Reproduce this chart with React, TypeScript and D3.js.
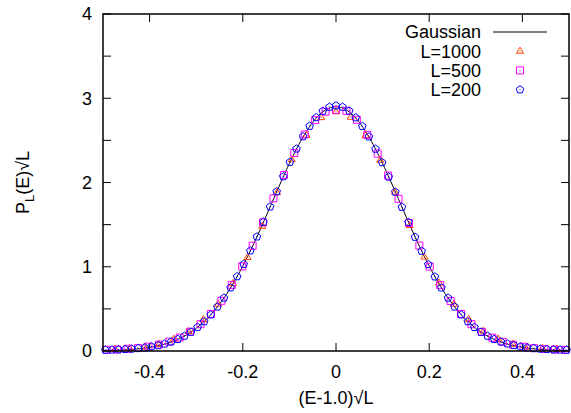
import React, { useRef, useEffect } from 'react';
import * as d3 from 'd3';

// bin spacing in scaled units (dE = 0.001, times sqrt(L))
const step200 = 0.001 * Math.sqrt(200);
const step500 = 0.001 * Math.sqrt(500);
const step1000 = 0.001 * Math.sqrt(1000);

// L=200, bins k = -35..35
const y200 = [
  0.012, 0.014, 0.016, 0.020, 0.025, 0.031, 0.040, 0.052, 0.066, 0.085,
  0.110, 0.140, 0.178, 0.226, 0.283, 0.350, 0.430, 0.524, 0.630, 0.752,
  0.884, 1.030, 1.190, 1.356, 1.532, 1.712, 1.892, 2.070, 2.242, 2.400,
  2.546, 2.670, 2.772, 2.848, 2.896, 2.912, 2.896, 2.850, 2.770, 2.668,
  2.543, 2.398, 2.238, 2.066, 1.888, 1.708, 1.528, 1.352, 1.186, 1.028,
  0.882, 0.750, 0.630, 0.524, 0.430, 0.350, 0.282, 0.226, 0.178, 0.140,
  0.110, 0.086, 0.067, 0.052, 0.040, 0.031, 0.025, 0.020, 0.016, 0.014,
  0.012,
];

// L=500, bins k = -22..22
const y500 = [
  0.014, 0.018, 0.026, 0.036, 0.052, 0.076, 0.110, 0.160, 0.228, 0.318,
  0.440, 0.596, 0.784, 1.004, 1.250, 1.526, 1.812, 2.090, 2.350, 2.570,
  2.740, 2.840, 2.862, 2.850, 2.744, 2.566, 2.342, 2.082, 1.806, 1.520,
  1.252, 1.002, 0.782, 0.594, 0.440, 0.318, 0.226, 0.158, 0.108, 0.074,
  0.050, 0.034, 0.024, 0.017, 0.013,
];

// L=1000, bins k = -15..15
const y1000 = [
  0.020, 0.030, 0.048, 0.080, 0.140, 0.232, 0.372, 0.556, 0.800, 1.110,
  1.480, 1.880, 2.270, 2.560, 2.770, 2.840, 2.775, 2.555, 2.265, 1.885,
  1.490, 1.115, 0.806, 0.556, 0.376, 0.236, 0.142, 0.082, 0.048, 0.030,
  0.020,
];

const gaussSigma = 0.1376;
const xTicks = [-0.4, -0.2, 0, 0.2, 0.4];
const yTicks = [0, 1, 2, 3, 4];
const yMinor = [0.5, 1.5, 2.5, 3.5];

const legendItems = [
  { label: 'Gaussian', kind: 'line', color: '#000000' },
  { label: 'L=1000', kind: 'triangle', color: '#ff4500' },
  { label: 'L=500', kind: 'square', color: '#ff00ff' },
  { label: 'L=200', kind: 'pentagon', color: '#0000ff' },
];

const toPoints = (ys, h) => {
  const n = (ys.length - 1) / 2;
  return ys.map((v, i) => ({ x: (i - n) * h, y: v }));
};

const markerPath = (kind) => {
  if (kind === 'triangle') {
    const s = 7, hgt = s * Math.sqrt(3) / 2;
    return `M0,${-hgt * 2 / 3}L${s / 2},${hgt / 3}L${-s / 2},${hgt / 3}Z`;
  }
  if (kind === 'square') {
    return 'M-3.5,-3.5H3.5V3.5H-3.5Z';
  }
  const r = 4;
  const pts = d3.range(5).map(i => {
    const a = -Math.PI / 2 + i * 2 * Math.PI / 5;
    return [r * Math.cos(a), r * Math.sin(a)];
  });
  return 'M' + pts.map(p => p.join(',')).join('L') + 'Z';
};

const Chart = ({ width = 571, height = 413 }) => {
  const ref = useRef();

  useEffect(() => {
    d3.select(ref.current).selectAll('*').remove();

    const margin = { left: 103, right: 1, top: 14, bottom: 62 };
    const x = d3.scaleLinear().domain([-0.5, 0.5]).range([margin.left, width - margin.right - 1]);
    const y = d3.scaleLinear().domain([0, 4]).range([height - margin.bottom, margin.top]);
    const font = "'Liberation Sans', Arial, Helvetica, sans-serif";

    const svg = d3.select(ref.current)
      .attr('width', width)
      .attr('height', height)
      .style('font-family', font);

    svg.append('rect').attr('width', width).attr('height', height).attr('fill', '#fff');

    const [x0, x1] = x.range();
    const [yb, yt] = y.range();
    const tl = 8;

    // ticks
    const ticks = svg.append('g').attr('stroke', '#000').attr('stroke-width', 1);
    xTicks.forEach(t => {
      ticks.append('line').attr('x1', x(t)).attr('x2', x(t)).attr('y1', yb).attr('y2', yb - tl);
      ticks.append('line').attr('x1', x(t)).attr('x2', x(t)).attr('y1', yt).attr('y2', yt + tl);
    });
    yTicks.concat(yMinor).forEach(t => {
      ticks.append('line').attr('x1', x0).attr('x2', x0 + tl).attr('y1', y(t)).attr('y2', y(t));
      ticks.append('line').attr('x1', x1).attr('x2', x1 - tl).attr('y1', y(t)).attr('y2', y(t));
    });

    // tick labels (plain hyphen minus, as in the original)
    svg.append('g').selectAll('text').data(xTicks).enter().append('text')
      .attr('x', d => x(d)).attr('y', yb + 27)
      .attr('text-anchor', 'middle').attr('font-size', 18)
      .text(d => String(d));
    svg.append('g').selectAll('text').data(yTicks).enter().append('text')
      .attr('x', x0 - 11).attr('y', d => y(d)).attr('dy', '0.35em')
      .attr('text-anchor', 'end').attr('font-size', 18)
      .text(d => d);

    // axis titles
    svg.append('text')
      .attr('x', (x0 + x1) / 2).attr('y', 404)
      .attr('text-anchor', 'middle').attr('font-size', 18)
      .text('(E-1.0)√L');
    const yl = svg.append('text')
      .attr('transform', `translate(29,${(yb + yt) / 2}) rotate(-90)`)
      .attr('text-anchor', 'middle').attr('font-size', 18);
    yl.append('tspan').text('P');
    yl.append('tspan').attr('font-size', 13).attr('dy', 5).text('L');
    yl.append('tspan').attr('dy', -5).text('(E)√L');

    // gaussian curve
    const gauss = v => Math.exp(-v * v / (2 * gaussSigma * gaussSigma)) / (gaussSigma * Math.sqrt(2 * Math.PI));
    const curve = d3.range(-0.5, 0.5001, 0.002).map(v => [v, gauss(v)]);
    svg.append('path')
      .attr('d', d3.line().x(d => x(d[0])).y(d => y(d[1]))(curve))
      .attr('fill', 'none').attr('stroke', '#000').attr('stroke-width', 1);

    // data series
    const series = [
      { pts: toPoints(y1000, step1000), kind: 'triangle', color: '#ff4500' },
      { pts: toPoints(y500, step500), kind: 'square', color: '#ff00ff' },
      { pts: toPoints(y200, step200), kind: 'pentagon', color: '#0000ff' },
    ];
    series.forEach(s => {
      const g = svg.append('g');
      const m = g.selectAll('g').data(s.pts).enter().append('g')
        .attr('transform', d => `translate(${x(d.x)},${y(d.y)})`);
      m.append('path').attr('d', markerPath(s.kind))
        .attr('fill', 'none').attr('stroke', s.color).attr('stroke-width', 1);
      m.append('rect').attr('x', -0.5).attr('y', -0.5).attr('width', 1).attr('height', 1)
        .attr('fill', s.color);
    });

    // legend
    const lg = svg.append('g');
    legendItems.forEach((d, i) => {
      const ly = 32 + i * 19.2;
      lg.append('text').attr('x', 481).attr('y', ly).attr('dy', '0.35em')
        .attr('text-anchor', 'end').attr('font-size', 18).text(d.label);
      if (d.kind === 'line') {
        lg.append('line').attr('x1', 493).attr('x2', 547).attr('y1', ly).attr('y2', ly)
          .attr('stroke', '#000').attr('stroke-width', 1);
      } else {
        const m = lg.append('g').attr('transform', `translate(520,${ly})`);
        m.append('path').attr('d', markerPath(d.kind))
          .attr('fill', 'none').attr('stroke', d.color).attr('stroke-width', 1);
        m.append('rect').attr('x', -0.5).attr('y', -0.5).attr('width', 1).attr('height', 1)
          .attr('fill', d.color);
      }
    });

    // frame
    svg.append('rect')
      .attr('x', x0).attr('y', yt).attr('width', x1 - x0).attr('height', yb - yt)
      .attr('fill', 'none').attr('stroke', '#000').attr('stroke-width', 1.5);
  }, [width, height]);

  return <svg ref={ref} style={{ position: 'absolute', left: 0, top: 0, display: 'block' }} />;
};

export default function App() {
  return <Chart />;
}
